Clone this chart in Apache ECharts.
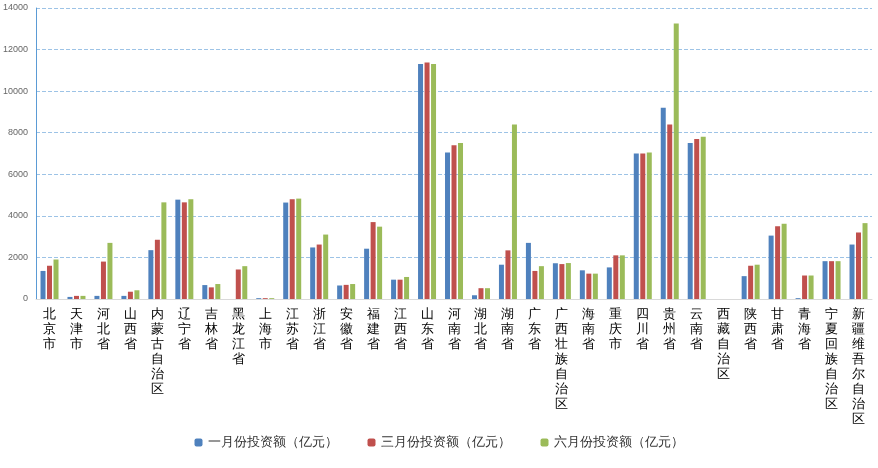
<!DOCTYPE html><html><head><meta charset="utf-8"><script src="https://cdn.jsdelivr.net/npm/echarts@6/dist/echarts.min.js"></script></head><body style="margin:0"><div id="c" style="width:878px;height:468px"></div><script>
const categories=['北京市','天津市','河北省','山西省','内蒙古自治区','辽宁省','吉林省','黑龙江省','上海市','江苏省','浙江省','安徽省','福建省','江西省','山东省','河南省','湖北省','湖南省','广东省','广西壮族自治区','海南省','重庆市','四川省','贵州省','云南省','西藏自治区','陕西省','甘肃省','青海省','宁夏回族自治区','新疆维吾尔自治区'];
const jan=[1350,100,150,150,2350,4780,670,0,40,4640,2480,650,2420,930,11300,7050,180,1650,2700,1720,1380,1520,7000,9200,7500,0,1100,3050,40,1820,2620];
const mar=[1600,150,1800,350,2850,4650,560,1420,40,4800,2620,680,3700,930,11380,7400,520,2340,1350,1680,1220,2100,7000,8400,7700,0,1600,3500,1130,1820,3200];
const jun=[1900,150,2700,420,4650,4800,720,1580,40,4830,3100,720,3480,1060,11300,7500,520,8400,1580,1730,1220,2100,7050,13250,7800,0,1650,3620,1130,1820,3650];
const names=['一月份投资额（亿元）','三月份投资额（亿元）','六月份投资额（亿元）'];
const colors=['#4f81bd','#c0504d','#9bbb59'];
const ch=echarts.init(document.getElementById('c'));
ch.setOption({
 color:colors,
 grid:{left:32,right:6,top:8,bottom:169},
 legend:{bottom:14,itemWidth:8,itemHeight:8,itemGap:30,textStyle:{fontSize:13,color:'#333'}},
 xAxis:{type:'category',data:categories,axisTick:{show:false},axisLine:{lineStyle:{color:'#d9d9d9'}},
  axisLabel:{interval:0,fontSize:13,color:'#000',lineHeight:15,formatter:v=>v.split('').join('\n')}},
 yAxis:{type:'value',min:0,max:14000,interval:2000,axisLine:{show:true,lineStyle:{color:'#5b9bd5'}},
  axisLabel:{fontSize:9,color:'#666',formatter:v=>String(v)},splitLine:{lineStyle:{type:'dashed',color:'#9dc3e6'}}},
 series:[jan,mar,jun].map((d,i)=>({name:names[i],type:'bar',data:d,barWidth:5,barGap:'30%',barCategoryGap:'45%'}))
});
</script></body></html>
